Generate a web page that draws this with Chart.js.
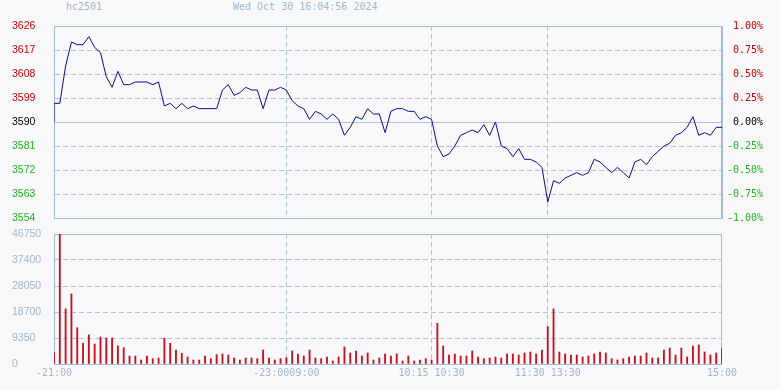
<!DOCTYPE html>
<html>
<head>
<meta charset="utf-8">
<script src="https://cdn.jsdelivr.net/npm/chart.js@4"></script>
<style>
  html, body { margin: 0; padding: 0; background: #f9f9fb; }
  #wrap { position: relative; width: 780px; height: 390px; overflow: hidden; }
  .hd { position: absolute; top: 1px; font: 10px 'DejaVu Sans Mono', monospace; color: #a3b6cc; white-space: pre; line-height: 12px; }
  canvas { position: absolute; left: 0; }
</style>
</head>
<body>
<div id="wrap">
  <span class="hd" style="left:66px">hc2501</span>
  <span class="hd" style="left:233px">Wed Oct 30 16:04:56 2024</span>
  <canvas id="priceChart" width="780" height="230" style="top:0"></canvas>
  <canvas id="volChart" width="780" height="164" style="top:226px"></canvas>
</div>
<script>
// ---- data (3-minute bars, night + day session) ----
const prevClose = 3590;
const prices = [
  3597, 3597, 3611, 3620, 3619, 3619, 3622, 3618, 3616, 3607,
  3603, 3609, 3604, 3604, 3605, 3605, 3605, 3604, 3605, 3596,
  3597, 3595, 3597, 3595, 3596, 3595, 3595, 3595, 3595, 3602,
  3604, 3600, 3601, 3603, 3602, 3602, 3595, 3602, 3602, 3603,
  3602, 3598, 3596, 3595, 3591, 3594, 3593, 3591, 3593, 3591,
  3585, 3588, 3592, 3591, 3595, 3593, 3593, 3586, 3594, 3595,
  3595, 3594, 3594, 3591, 3592, 3591, 3581, 3577, 3578, 3581,
  3585, 3586, 3587, 3586, 3589, 3585, 3590, 3581, 3580, 3577,
  3580, 3576, 3576, 3575, 3573, 3560, 3568, 3567, 3569, 3570,
  3571, 3570, 3571, 3576, 3575, 3573, 3571, 3573, 3571, 3569,
  3575, 3576, 3574, 3577, 3579, 3581, 3582, 3585, 3586, 3588,
  3592, 3585, 3586, 3585, 3588, 3588
];
const volumes = [
  4080, 46750, 19800, 25200, 13080, 7440, 10440, 7200, 9720, 9360,
  9360, 6480, 5880, 2880, 2880, 1440, 2880, 1920, 2160, 9240,
  7440, 5040, 3840, 2520, 1440, 1440, 2880, 1920, 3360, 3600,
  3240, 2160, 1440, 2160, 2160, 1920, 5040, 2160, 1440, 1920,
  2280, 4680, 3600, 2880, 5040, 2160, 1920, 2520, 1080, 2520,
  6120, 3960, 4680, 2880, 3960, 1440, 2160, 3600, 2880, 3600,
  1080, 2880, 1080, 1440, 1920, 1440, 14640, 6480, 3240, 3600,
  2880, 2880, 4680, 2520, 1920, 2160, 2520, 2160, 3600, 3600,
  3240, 3960, 4320, 3600, 5040, 13440, 19800, 4320, 3600, 3240,
  3240, 2520, 2880, 3600, 4320, 3960, 1920, 1440, 1920, 2520,
  2880, 2880, 3960, 2160, 2160, 5040, 5760, 3240, 5760, 2520,
  6480, 6840, 4320, 3240, 3960, 5760
];
const priceTicks = [3554, 3563, 3572, 3581, 3590, 3599, 3608, 3617, 3626];
const volTicks = [0, 9350, 18700, 28050, 37400, 46750];
const sessionBreaks = [40, 65, 85];
const timeTickIdx = [0, 40, 65, 85, 115];
const timeLabels = ['-21:00', '-23:0009:00', '10:15 10:30', '11:30 13:30', '15:00'];

const lastIdx = prices.length - 1;
const frameColor = '#a2bcd8';
const gridColor = '#aec3da';
const axisFont = { family: 'Liberation Sans', size: 10.5 };
const monoFont = { family: 'DejaVu Sans Mono', size: 10 };

// light blue box around each plot area
const framePlugin = {
  id: 'frame',
  beforeDatasetsDraw(chart) {
    const a = chart.chartArea, ctx = chart.ctx;
    ctx.save();
    ctx.strokeStyle = frameColor;
    ctx.lineWidth = 1;
    ctx.strokeRect(Math.round(a.left) + 0.5, Math.round(a.top) + 0.5,
                   Math.round(a.width) - 1, Math.round(a.height));
    ctx.restore();
  }
};

function priceColor(v) {
  if (v > prevClose) return '#cc0000';
  if (v < prevClose) return '#22b422';
  return '#000000';
}

// ================= PRICE LINE =================
const lineData = [{ x: 0, y: prevClose }].concat(prices.map((p, i) => ({ x: i, y: p })));

new Chart(document.getElementById('priceChart'), {
  type: 'line',
  data: {
    datasets: [{
      data: lineData,
      borderColor: '#0a0a96',
      borderWidth: 1,
      pointRadius: 0,
      tension: 0,
      yAxisID: 'y'
    }]
  },
  options: {
    responsive: false,
    animation: false,
    layout: { padding: { top: 26, bottom: 12, left: 12, right: 17 } },
    plugins: { legend: { display: false }, tooltip: { enabled: false } },
    scales: {
      x: {
        type: 'linear', min: 0, max: lastIdx,
        afterBuildTicks: s => { s.ticks = sessionBreaks.map(v => ({ value: v })); },
        afterFit: s => { s.height = 0; },
        ticks: { display: false },
        grid: { color: gridColor, drawTicks: false },
        border: { display: false, dash: [5, 3] }
      },
      y: {
        position: 'left', min: priceTicks[0], max: priceTicks[priceTicks.length - 1],
        afterBuildTicks: s => { s.ticks = priceTicks.map(v => ({ value: v })); },
        afterFit: s => { s.width = 42; },
        ticks: {
          crossAlign: 'far', padding: 0, font: axisFont,
          color: c => priceColor(c.tick.value),
          callback: v => String(v)
        },
        grid: { color: gridColor, drawTicks: false },
        border: {
          color: frameColor,
          dash: c => (c.type === 'tick' && c.tick.value !== prevClose) ? [5, 3] : []
        }
      },
      yr: {
        position: 'right', min: priceTicks[0], max: priceTicks[priceTicks.length - 1],
        afterBuildTicks: s => { s.ticks = priceTicks.map(v => ({ value: v })); },
        afterFit: s => { s.width = 41; },
        ticks: {
          crossAlign: 'far', padding: 0, font: monoFont,
          color: c => priceColor(c.tick.value),
          callback: v => ((v - prevClose) / prevClose * 100).toFixed(2) + '%'
        },
        grid: { display: false, drawTicks: false },
        border: { color: frameColor }
      }
    }
  },
  plugins: [framePlugin]
});

// ================= VOLUME BARS =================
new Chart(document.getElementById('volChart'), {
  type: 'bar',
  data: {
    datasets: [{
      data: volumes.map((v, i) => ({ x: i, y: v })),
      backgroundColor: '#c8101e',
      barThickness: 1.2
    }]
  },
  options: {
    responsive: false,
    animation: false,
    layout: { padding: { top: 8, bottom: 0, left: 12, right: 58 } },
    plugins: { legend: { display: false }, tooltip: { enabled: false } },
    scales: {
      x: {
        type: 'linear', min: 0, max: lastIdx, offset: false,
        afterBuildTicks: s => { s.ticks = timeTickIdx.map(v => ({ value: v })); },
        afterFit: s => { s.height = 26; },
        ticks: {
          autoSkip: false, maxRotation: 0, padding: 3,
          font: monoFont, color: '#a3b6cc',
          callback: (v, i) => timeLabels[i]
        },
        grid: {
          offset: false, drawTicks: false,
          color: c => (c.type === 'tick' && sessionBreaks.includes(c.tick.value)) ? gridColor : 'rgba(0,0,0,0)'
        },
        border: { display: false, dash: [5, 3] }
      },
      y: {
        position: 'left', min: 0, max: volTicks[volTicks.length - 1],
        afterBuildTicks: s => { s.ticks = volTicks.map(v => ({ value: v })); },
        afterFit: s => { s.width = 42; },
        ticks: {
          crossAlign: 'far', padding: 0, font: axisFont, color: '#a3b6cc',
          callback: v => String(v)
        },
        grid: { color: gridColor, drawTicks: false },
        border: { color: frameColor, dash: c => c.type === 'tick' ? [5, 3] : [] }
      }
    }
  },
  plugins: [framePlugin]
});
</script>
</body>
</html>
